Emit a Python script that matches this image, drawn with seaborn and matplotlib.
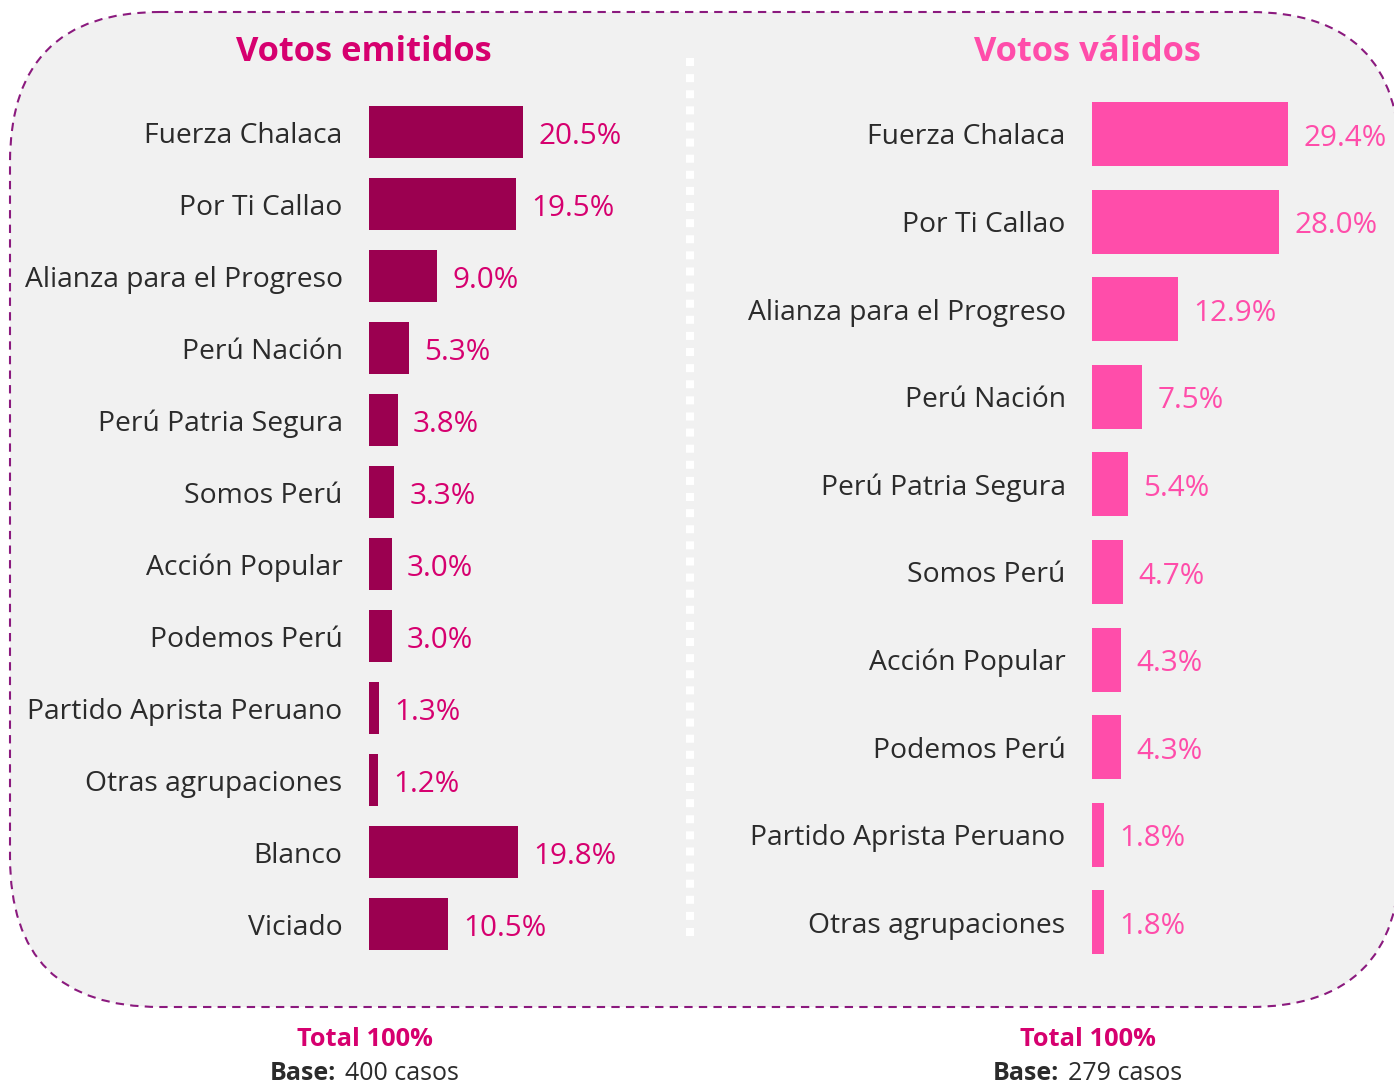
import matplotlib
matplotlib.use("Agg")
import matplotlib.pyplot as plt
from matplotlib.patches import FancyBboxPatch
import seaborn as sns

partidos_emitidos = ["Fuerza Chalaca", "Por Ti Callao", "Alianza para el Progreso",
                     "Perú Nación", "Perú Patria Segura", "Somos Perú",
                     "Acción Popular", "Podemos Perú", "Partido Aprista Peruano",
                     "Otras agrupaciones", "Blanco", "Viciado"]
votos_emitidos = [20.5, 19.5, 9.0, 5.3, 3.8, 3.3, 3.0, 3.0, 1.3, 1.2, 19.8, 10.5]

partidos_validos = ["Fuerza Chalaca", "Por Ti Callao", "Alianza para el Progreso",
                    "Perú Nación", "Perú Patria Segura", "Somos Perú",
                    "Acción Popular", "Podemos Perú", "Partido Aprista Peruano",
                    "Otras agrupaciones"]
votos_validos = [29.4, 28.0, 12.9, 7.5, 5.4, 4.7, 4.3, 4.3, 1.8, 1.8]

base_emitidos = 400
base_validos = 279

FONT = "Open Sans"
DARK = "#2b2b2b"
C_EMIT = "#9b0050"
C_EMIT_TXT = "#d6006f"
C_VAL = "#ff4daa"

sns.set_theme(style="white")
plt.rcParams["font.family"] = [FONT, "DejaVu Sans"]

W, H = 1394, 1085
fig = plt.figure(figsize=(W / 100, H / 100), dpi=100)

# background panel in pixel coordinates
bg = fig.add_axes([0, 0, 1, 1], zorder=0)
bg.set_xlim(0, W)
bg.set_ylim(H, 0)
bg.axis("off")
panel = FancyBboxPatch((10, 12), 1390, 995, boxstyle="round,pad=0,rounding_size=150",
                       facecolor="#f1f1f1", edgecolor="#8b1a7e", linewidth=1.5,
                       linestyle=(0, (4, 3)))
bg.add_patch(panel)
bg.plot([690, 690], [58, 940], color="white", linewidth=5.8, linestyle=(0, (1, 1)))

bg.text(364, 52, "Votos emitidos", ha="center", va="center", fontsize=24.8,
        fontweight="bold", color=C_EMIT_TXT)
bg.text(1087, 52, "Votos válidos", ha="center", va="center", fontsize=24.8,
        fontweight="bold", color=C_VAL)

for cx, base in [(365, base_emitidos), (1088, base_validos)]:
    bg.text(cx, 1039, "Total 100%", ha="center", va="center", fontsize=18.3,
            fontweight="bold", color=C_EMIT_TXT)
    bg.text(cx - 29, 1074, "Base:", ha="right", va="center", fontsize=18,
            fontweight="bold", color=DARK)
    bg.text(cx - 20, 1074, f"{base} casos", ha="left", va="center", fontsize=18,
            color=DARK)


def panel_axes(x0, xmax, px_per, top, bottom):
    ax = fig.add_axes([x0 / W, 1 - bottom / H, xmax * px_per / W, (bottom - top) / H],
                      zorder=1)
    ax.set_facecolor("none")
    return ax


def draw(ax, cats, vals, color, txt_color, width, xmax):
    sns.barplot(x=vals, y=cats, orient="h", color=color, saturation=1,
                width=width, linewidth=0, ax=ax)
    ax.set_xlim(0, xmax)
    ax.set_ylim(len(cats) - 0.5, -0.5)
    labels = ax.bar_label(ax.containers[0], labels=[f"{v:.1f}%" for v in vals],
                          padding=11, fontsize=21.3, color=txt_color)
    for t in labels:
        t.xyann = (11, -3)
    ax.set_xlabel("")
    ax.set_ylabel("")
    ax.set_xticks([])
    ax.tick_params(axis="y", length=0, pad=19, labelsize=20.3, labelcolor=DARK)
    sns.despine(ax=ax, left=True, bottom=True)


ax1 = panel_axes(369, 30, 7.53, 96, 960)
draw(ax1, partidos_emitidos, votos_emitidos, C_EMIT, C_EMIT_TXT, 0.72, 30)

ax2 = panel_axes(1092, 40, 6.68, 90.2, 966.2)
draw(ax2, partidos_validos, votos_validos, C_VAL, C_VAL, 0.73, 40)

fig.savefig("out.png", dpi=100)
